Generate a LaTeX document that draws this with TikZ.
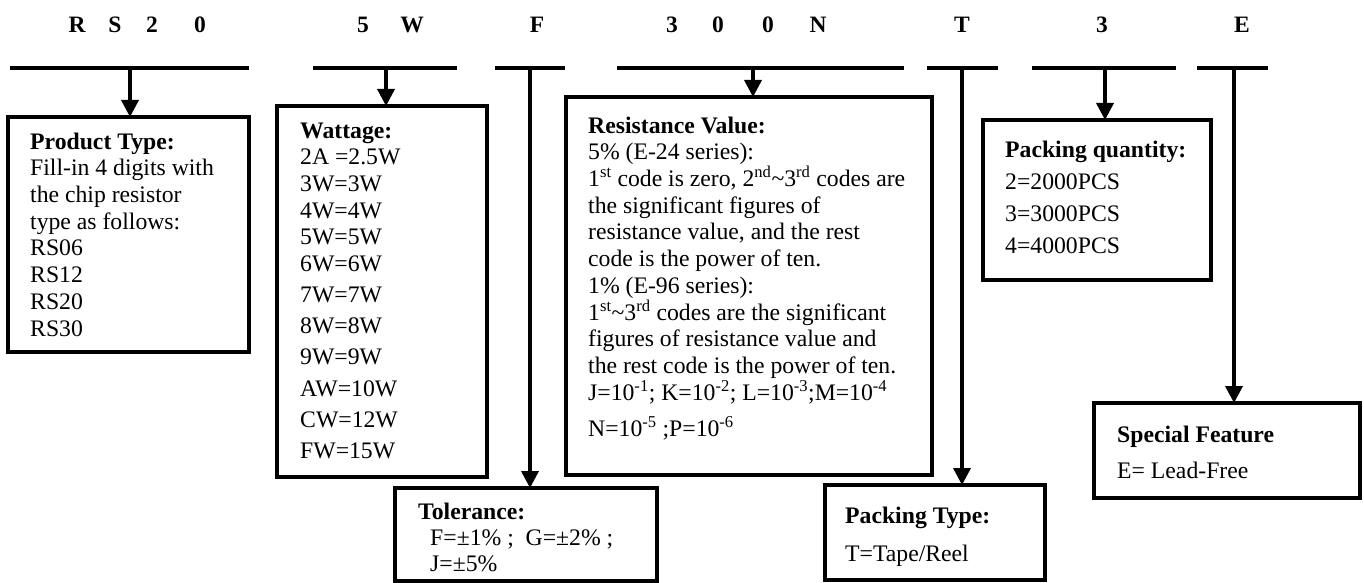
\documentclass[tikz,border=0pt]{standalone}
\usepackage{fontspec}
\setmainfont{Liberation Serif}
\usetikzlibrary{arrows.meta}
\begin{document}
\begin{tikzpicture}[x=1pt,y=-1pt,
  hdr/.style={font=\fontsize{23.5}{26.7}\selectfont\bfseries, anchor=base, inner sep=0},
  bar/.style={line width=4pt},
  boxnode/.style={draw, line width=3.5pt, anchor=north west, inner sep=0, outer sep=0},
  txt/.style={anchor=north west, inner sep=0, align=left, font=\fontsize{23.7}{26.7}\selectfont},
  arr/.style={line width=3.5pt, -{Triangle[length=17pt,width=17pt]}},
]
\fill[white] (0,0) rectangle (1364,583);
\useasboundingbox (0,0) rectangle (1364,583);

% header letters
\node[hdr] (hR) at (77,33) {R};
\node[hdr] (hS) at (115,33) {S};
\node[hdr] (h2) at (152,33) {2};
\node[hdr] (h0) at (200,33) {0};
\node[hdr] (h5) at (363,33) {5};
\node[hdr] (hW) at (412,33) {W};
\node[hdr] (hF) at (537,33) {F};
\node[hdr] (h3) at (672,33) {3};
\node[hdr] (h0a) at (718,33) {0};
\node[hdr] (h0b) at (768,33) {0};
\node[hdr] (hN) at (818,33) {N};
\node[hdr] (hT) at (962,33) {T};
\node[hdr] (h3b) at (1102,33) {3};
\node[hdr] (hE) at (1242,33) {E};

% bars
\coordinate (b1l) at (10,68);   \coordinate (b1r) at (249,68);
\coordinate (b2l) at (313,68);  \coordinate (b2r) at (457,68);
\coordinate (b3l) at (495,68);  \coordinate (b3r) at (565,68);
\coordinate (b4l) at (617,68);  \coordinate (b4r) at (904,68);
\coordinate (b5l) at (927,68);  \coordinate (b5r) at (998,68);
\coordinate (b6l) at (1032,68); \coordinate (b6r) at (1176,68);
\coordinate (b7l) at (1197,68); \coordinate (b7r) at (1268,68);
\foreach \i in {1,...,7} { \draw[bar] (b\i l) -- (b\i r); }

% stem start points
\coordinate (s1) at (130,68);
\coordinate (s2) at (386,68);
\coordinate (s3) at (530,68);
\coordinate (s4) at (753,68);
\coordinate (s5) at (962,68);
\coordinate (s6) at (1105,68);
\coordinate (s7) at (1234,68);

% boxes
\node[boxnode, minimum width=241pt, minimum height=235pt] (prod) at (8,117) {};
\node[boxnode, minimum width=210pt, minimum height=371pt] (watt) at (277,106) {};
\node[boxnode, minimum width=262pt, minimum height=93pt] (tol) at (395,488) {};
\node[boxnode, minimum width=366pt, minimum height=378pt] (res) at (566,97) {};
\node[boxnode, minimum width=220pt, minimum height=95pt] (ptype) at (825,485) {};
\node[boxnode, minimum width=228pt, minimum height=160pt] (pqty) at (983,120) {};
\node[boxnode, minimum width=266pt, minimum height=95pt] (spec) at (1094,403) {};

% arrows
\draw[arr] (s1) -- (s1 |- prod.north);
\draw[arr] (s2) -- (s2 |- watt.north);
\draw[arr] (s3) -- (s3 |- tol.north);
\draw[arr] (s4) -- (s4 |- res.north);
\draw[arr] (s5) -- (s5 |- ptype.north);
\draw[arr] (s6) -- (s6 |- pqty.north);
\draw[arr] (s7) -- (s7 |- spec.north);

% texts
\node[txt] (tprod) at (30,130.3) {\strut\textbf{Product Type:}\\Fill-in 4 digits with\\the chip resistor\\type as follows:\\RS06\\RS12\\RS20\\RS30};
\node[txt] (twatt) at (300,119.3) {\strut\textbf{Wattage:}\\2A =2.5W\\3W=3W\\4W=4W\\5W=5W\\6W=6W\\[4.3pt]7W=7W\\[4.3pt]8W=8W\\[4.5pt]9W=9W\\[4.5pt]AW=10W\\[4.5pt]CW=12W\\[4.5pt]FW=15W};
\node[txt] (tres) at (588,114.3) {\strut\textbf{Resistance Value:}\\
5\% (E-24 series):\\
1\textsuperscript{st} code is zero, 2\textsuperscript{nd}\textasciitilde3\textsuperscript{rd} codes are\\
the significant figures of\\
resistance value, and the rest\\
code is the power of ten.\\
1\% (E-96 series):\\
1\textsuperscript{st}\textasciitilde3\textsuperscript{rd} codes are the significant\\
figures of resistance value and\\
the rest code is the power of ten.\\
J=10\textsuperscript{-1}; K=10\textsuperscript{-2}; L=10\textsuperscript{-3};M=10\textsuperscript{-4}\\[10pt]
N=10\textsuperscript{-5} ;P=10\textsuperscript{-6}};
\node[txt, font=\fontsize{23.7}{25.8}\selectfont] (ttol) at (418,501.3) {\strut\textbf{Tolerance:}\\\hspace*{12pt}F=±1\% ;\ \ G=±2\% ;\\\hspace*{12pt}J=±5\%};
\node[txt] (tpqty) at (1005,138.3) {\strut\textbf{Packing quantity:}\\[5.3pt]2=2000PCS\\[5.3pt]3=3000PCS\\[5.3pt]4=4000PCS};
\node[txt] (tptype) at (845,504.3) {\strut\textbf{Packing Type:}\\[11.3pt]T=Tape/Reel};
\node[txt] (tspec) at (1117,423.3) {\strut\textbf{Special Feature}\\[9.3pt]E= Lead-Free};
\end{tikzpicture}
\end{document}
